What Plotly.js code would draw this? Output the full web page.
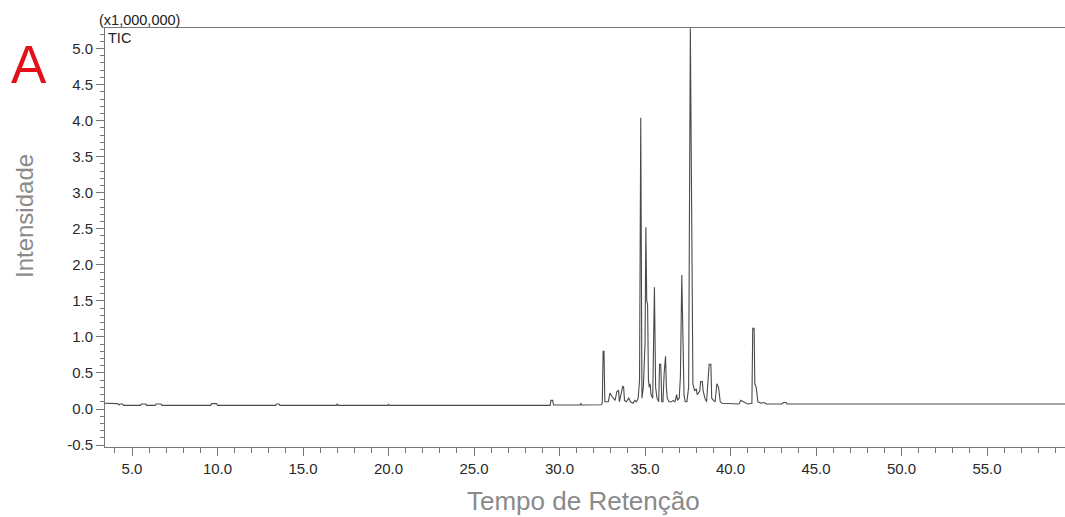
<!DOCTYPE html>
<html>
<head>
<meta charset="utf-8">
<script src="https://cdn.plot.ly/plotly-3.0.1.min.js"></script>
<style>html,body{margin:0;padding:0;background:#fff;}#chart{width:1065px;height:517px;}</style>
</head>
<body>
<div id="chart"></div>
<script>
// Retention time (min) of each point
const retentionTime = [
  3.4, 4.15, 4.25, 4.3, 4.45, 4.5, 5.5, 5.55, 5.8, 5.85, 6.35, 6.4, 6.7, 6.75,
  9.6, 9.65, 9.95, 10.0, 13.4, 13.45, 13.6, 13.65, 16.95, 17.0, 17.05,
  19.95, 20.0, 20.05, 29.45, 29.5, 29.6, 29.65, 31.2, 31.25, 31.3,
  32.2, 32.35, 32.45, 32.5, 32.55, 32.6, 32.65, 32.85, 32.95, 33.05, 33.15, 33.25,
  33.35, 33.45, 33.5, 33.6, 33.7, 33.75, 33.8, 33.9, 34.05, 34.15, 34.3, 34.4,
  34.5, 34.6, 34.68, 34.75, 34.82, 34.9, 35.0, 35.05, 35.1, 35.15, 35.2, 35.25,
  35.3, 35.35, 35.45, 35.55, 35.62, 35.7, 35.8, 35.85, 35.92, 35.98, 36.05,
  36.12, 36.2, 36.25, 36.3, 36.4, 36.55, 36.65, 36.75, 36.85, 36.9, 37.0,
  37.07, 37.15, 37.22, 37.28, 37.35, 37.45, 37.55, 37.65, 37.75, 37.8, 37.9,
  38.0, 38.05, 38.1, 38.2, 38.25, 38.35, 38.4, 38.5, 38.6, 38.75, 38.85, 38.9,
  39.0, 39.1, 39.2, 39.3, 39.4, 39.5, 40.5, 40.6, 40.75, 40.9, 41.0, 41.25,
  41.3, 41.38, 41.42, 41.5, 41.6, 41.8, 41.9, 42.05, 42.1, 43.0, 43.1, 43.25,
  43.3, 59.6
];
// Total ion current intensity (x1,000,000) at each retention time
const intensity = [
  0.08, 0.075, 0.055, 0.07, 0.07, 0.05, 0.05, 0.07, 0.07, 0.05, 0.05, 0.07, 0.07, 0.05,
  0.05, 0.075, 0.075, 0.05, 0.05, 0.07, 0.07, 0.05, 0.05, 0.07, 0.05,
  0.05, 0.065, 0.05, 0.05, 0.12, 0.12, 0.055, 0.055, 0.075, 0.055,
  0.055, 0.06, 0.06, 0.08, 0.8, 0.8, 0.1, 0.1, 0.22, 0.18, 0.15, 0.12,
  0.24, 0.26, 0.1, 0.2, 0.32, 0.3, 0.12, 0.1, 0.15, 0.1, 0.08, 0.12,
  0.1, 0.15, 0.4, 4.04, 0.15, 0.3, 0.9, 2.52, 1.5, 1.45, 0.4, 0.3,
  0.35, 0.2, 0.15, 1.69, 0.3, 0.15, 0.1, 0.62, 0.62, 0.1, 0.1,
  0.5, 0.73, 0.3, 0.15, 0.1, 0.1, 0.12, 0.1, 0.2, 0.12, 0.15,
  0.45, 1.86, 1.0, 0.2, 0.1, 0.1, 0.3, 5.28, 2.0, 0.35, 0.25,
  0.28, 0.2, 0.22, 0.25, 0.38, 0.38, 0.25, 0.15, 0.1, 0.62, 0.62, 0.15,
  0.12, 0.1, 0.35, 0.3, 0.1, 0.08, 0.07, 0.12, 0.1, 0.08, 0.07, 0.08,
  1.12, 1.12, 0.35, 0.3, 0.1, 0.08, 0.09, 0.08, 0.07, 0.07, 0.09, 0.09,
  0.07, 0.07
];
const xTickVals = [5, 10, 15, 20, 25, 30, 35, 40, 45, 50, 55];
const xTickText = ["5.0", "10.0", "15.0", "20.0", "25.0", "30.0", "35.0", "40.0", "45.0", "50.0", "55.0"];
const yTickVals = [-0.5, 0, 0.5, 1, 1.5, 2, 2.5, 3, 3.5, 4, 4.5, 5];
const yTickText = ["-0.5", "0.0", "0.5", "1.0", "1.5", "2.0", "2.5", "3.0", "3.5", "4.0", "4.5", "5.0"];

const FONT = "Liberation Sans, Arial, sans-serif";
const AXC = "#777";

const trace = {
  x: retentionTime, y: intensity, type: "scatter", mode: "lines",
  line: {color: "#4a4a4a", width: 1.1}, hoverinfo: "x+y"
};

const layout = {
  width: 1065, height: 517,
  margin: {l: 105, r: 0, t: 28, b: 70},
  paper_bgcolor: "#fff", plot_bgcolor: "#fff",
  showlegend: false,
  font: {family: FONT, size: 15, color: "#333"},
  xaxis: {
    range: [3.42, 59.56], tickmode: "array", tickvals: xTickVals, ticktext: xTickText,
    ticks: "outside", ticklen: 8, tickwidth: 1, tickcolor: AXC,
    showline: true, linecolor: AXC, linewidth: 1, mirror: true,
    showgrid: false, zeroline: false,
    tickfont: {family: FONT, size: 15, color: "#2a2a2a"},
    minor: {tickmode: "linear", tick0: 0, dtick: 1, ticks: "outside", ticklen: 5, tickcolor: AXC, showgrid: false}
  },
  yaxis: {
    range: [-0.527, 5.285], tickmode: "array", tickvals: yTickVals, ticktext: yTickText,
    ticks: "outside", ticklen: 8, tickwidth: 1, tickcolor: AXC,
    showline: true, linecolor: AXC, linewidth: 1,
    showgrid: false, zeroline: false,
    tickfont: {family: FONT, size: 15, color: "#2a2a2a"},
    minor: {tickmode: "linear", tick0: 0, dtick: 0.1, ticks: "outside", ticklen: 4, tickcolor: AXC, showgrid: false}
  },
  annotations: [
    {text: "A", xref: "paper", yref: "paper", x: -0.0792, y: 0.914, xanchor: "center", yanchor: "middle",
     showarrow: false, font: {family: FONT, size: 53, color: "#e3101a"}},
    {text: "(x1,000,000)", xref: "paper", yref: "paper", x: -0.0085, y: 1.018, xanchor: "left", yanchor: "middle",
     showarrow: false, font: {family: FONT, size: 14.5, color: "#222"}},
    {text: "TIC", xref: "paper", yref: "paper", x: 0.0015, y: 0.976, xanchor: "left", yanchor: "middle",
     showarrow: false, font: {family: FONT, size: 14.5, color: "#222"}},
    {text: "Intensidade", xref: "paper", yref: "paper", x: -0.0845, y: 0.551, xanchor: "center", yanchor: "middle",
     textangle: -90, showarrow: false, font: {family: FONT, size: 24, color: "#8a8a8a"}},
    {text: "Tempo de Retenção", xref: "paper", yref: "paper", x: 0.4985, y: -0.1277, xanchor: "center", yanchor: "middle",
     showarrow: false, font: {family: FONT, size: 26, color: "#8a8a8a"}}
  ]
};

Plotly.newPlot("chart", [trace], layout, {displayModeBar: false, staticPlot: true});
</script>
</body>
</html>
